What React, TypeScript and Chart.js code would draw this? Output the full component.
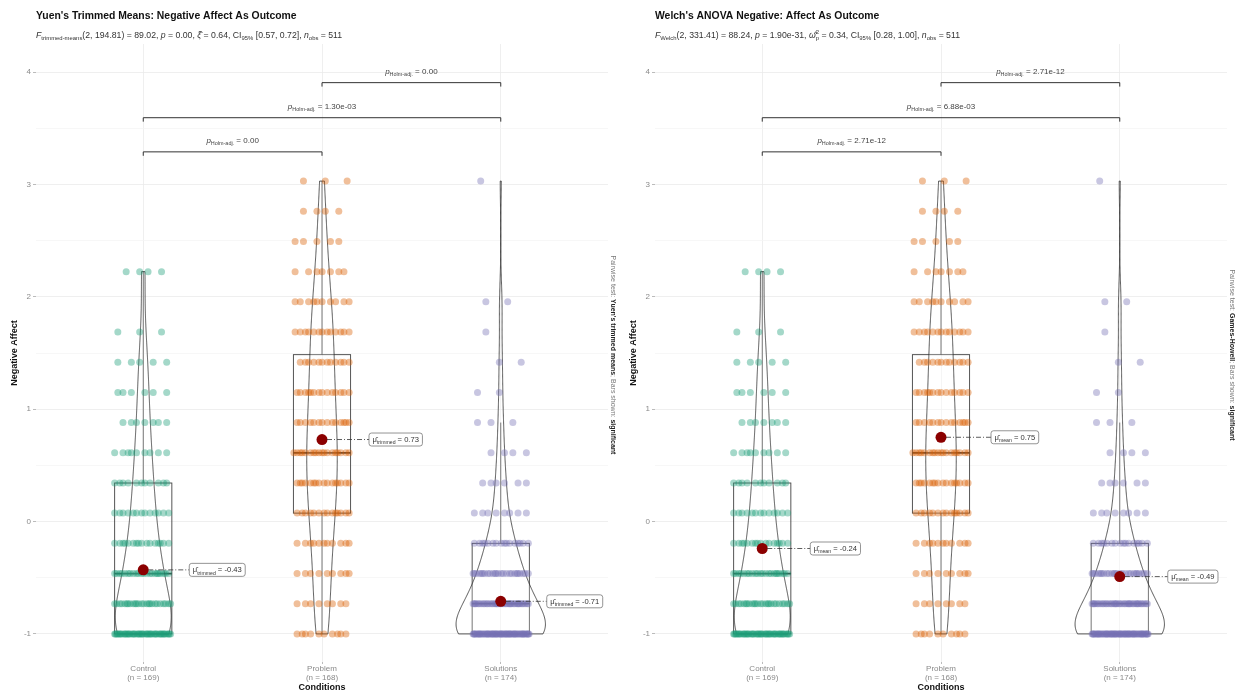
import { useEffect, useRef } from "react";
import { Chart, registerables } from "chart.js";

Chart.register(...registerables);

const FONT = '"Liberation Sans", Arial, Helvetica, sans-serif';

// Groups and their sample sizes
const conditions = ["Control", "Problem", "Solutions"];
const groupSizes = [169, 168, 174];

// Standardised negative-affect score levels and the number of participants at each level
const scoreLevels = [-1.0, -0.731, -0.463, -0.194, 0.075, 0.343, 0.612, 0.881, 1.149, 1.418, 1.687, 1.955, 2.224, 2.493, 2.761, 3.03];
const controlCounts = [48, 25, 22, 16, 13, 11, 9, 7, 6, 5, 3, 0, 4, 0, 0, 0];
const problemCounts = [10, 8, 9, 11, 14, 16, 18, 14, 14, 12, 13, 10, 7, 5, 4, 3];
const solutionsCounts = [66, 38, 25, 16, 8, 6, 4, 3, 2, 2, 1, 2, 0, 0, 0, 1];

// Centre estimates reported on each panel
const trimmedMeans = [-0.43, 0.73, -0.71];
const arithmeticMeans = [-0.24, 0.75, -0.49];

// Pairwise comparisons (1-based group positions) and their adjusted p-values
const comparisonPairs = [[1, 2], [1, 3], [2, 3]];
const yuenPairP = ["0.00", "1.30e-03", "0.00"];
const gamesHowellPairP = ["2.71e-12", "6.88e-03", "2.71e-12"];

// Axis ticks
const yTickValues = [-1, 0, 1, 2, 3, 4];
const yMinorValues = [-0.5, 0.5, 1.5, 2.5, 3.5];

const groupColours = ["#1B9E77", "#D95F02", "#7570B3"];

// ---- layout constants ----
const Y_MIN = -1.25;
const Y_MAX = 4.25;
const X_MIN = 0.4;
const X_MAX = 3.6;
const BRACKET_LEVELS = [3.29, 3.594, 3.906];
const BRACKET_TIP = 0.035;
const VIOLIN_WIDTH = 0.5;
const BOX_WIDTH = 0.32;
const JITTER = 0.16;
const LINE = "rgba(45,45,45,0.9)";
const MAJOR_GRID = "#EBEBEB";
const MINOR_GRID = "#F5F5F5";
const TICK_TEXT = "#8a8a8a";

// ---- summary statistics ----
const groupCounts = [controlCounts, problemCounts, solutionsCounts];

function expandScores(counts: number[]): number[] {
  const out: number[] = [];
  counts.forEach((c, k) => {
    for (let i = 0; i < c; i++) out.push(scoreLevels[k]);
  });
  return out;
}

function quantile(sorted: number[], p: number): number {
  const h = (sorted.length - 1) * p;
  const lo = Math.floor(h);
  const hi = Math.min(lo + 1, sorted.length - 1);
  return sorted[lo] + (h - lo) * (sorted[hi] - sorted[lo]);
}

// Silverman's rule of thumb (R's bw.nrd0)
function bandwidth(sorted: number[]): number {
  const n = sorted.length;
  const mean = sorted.reduce((a, b) => a + b, 0) / n;
  const sd = Math.sqrt(sorted.reduce((a, b) => a + (b - mean) ** 2, 0) / (n - 1));
  const iqr = quantile(sorted, 0.75) - quantile(sorted, 0.25);
  const lo = Math.min(sd, iqr / 1.34) || sd || 1;
  return 0.9 * lo * Math.pow(n, -0.2);
}

function kernelDensity(sorted: number[], bw: number, at: number): number {
  let s = 0;
  for (const v of sorted) {
    const u = (at - v) / bw;
    s += Math.exp(-0.5 * u * u);
  }
  return s / (sorted.length * bw * Math.sqrt(2 * Math.PI));
}

const summaries = groupCounts.map((counts) => {
  const scores = expandScores(counts);
  const q1 = quantile(scores, 0.25);
  const med = quantile(scores, 0.5);
  const q3 = quantile(scores, 0.75);
  const iqr = q3 - q1;
  const lowW = Math.min(...scores.filter((v) => v >= q1 - 1.5 * iqr));
  const highW = Math.max(...scores.filter((v) => v <= q3 + 1.5 * iqr));
  const bw = bandwidth(scores);
  const lo = scores[0];
  const hi = scores[scores.length - 1];
  const curve: [number, number][] = [];
  for (let j = 0; j < 512; j++) {
    const v = lo + ((hi - lo) * j) / 511;
    curve.push([v, kernelDensity(scores, bw, v)]);
  }
  return { scores, counts, q1, med, q3, lowW, highW, curve };
});

// violins share one area scale
const maxDensity = Math.max(...summaries.flatMap((s) => s.curve.map((c) => c[1])));

// jittered raw observations for one group
function groupPoints(g: number) {
  const pts: { x: number; y: number }[] = [];
  groupCounts[g].forEach((c, k) => {
    for (let i = 0; i < c; i++) {
      const frac = (i * 0.61803398875 + k * 0.3819660113 + g * 0.21) % 1;
      pts.push({ x: g + 1 + (frac - 0.5) * 2 * JITTER, y: scoreLevels[k] });
    }
  });
  return pts;
}

// ---- rich text ----
type Seg = { t: string; s?: "i" | "b"; p?: "sub" | "sup"; c?: string; hold?: boolean };

function segFont(seg: Seg, size: number) {
  const sz = seg.p ? size * 0.68 : size;
  return `${seg.s === "i" ? "italic " : ""}${seg.s === "b" ? "bold " : ""}${sz}px ${FONT}`;
}

function measureRich(ctx: CanvasRenderingContext2D, segs: Seg[], size: number) {
  let w = 0;
  let held = 0;
  for (const seg of segs) {
    ctx.font = segFont(seg, size);
    const sw = ctx.measureText(seg.t).width;
    if (seg.hold) {
      held = sw;
      continue;
    }
    w += Math.max(sw, held);
    held = 0;
  }
  return w;
}

function drawRich(
  ctx: CanvasRenderingContext2D,
  segs: Seg[],
  x: number,
  baseline: number,
  size: number,
  color: string,
  align: "left" | "center" = "left"
) {
  const total = measureRich(ctx, segs, size);
  let cx = align === "center" ? x - total / 2 : x;
  ctx.textAlign = "left";
  ctx.textBaseline = "alphabetic";
  let held = 0;
  for (const seg of segs) {
    ctx.font = segFont(seg, size);
    ctx.fillStyle = seg.c || color;
    const dy = seg.p === "sub" ? size * 0.3 : seg.p === "sup" ? -size * 0.42 : 0;
    ctx.fillText(seg.t, cx, baseline + dy);
    const sw = ctx.measureText(seg.t).width;
    if (seg.hold) {
      held = sw;
      continue;
    }
    cx += Math.max(sw, held);
    held = 0;
  }
}

// ---- panel definitions ----
type PanelSpec = {
  title: string;
  subtitle: Seg[];
  caption: Seg[];
  centres: number[];
  centreLabel: string;
  pairP: string[];
  labelGap: number[];
};

const CAPTION_GREY = "#777";

const panels: PanelSpec[] = [
  {
    title: "Yuen's Trimmed Means: Negative Affect As Outcome",
    subtitle: [
      { t: "F", s: "i" },
      { t: "trimmed-means", p: "sub" },
      { t: "(2, 194.81) = 89.02, " },
      { t: "p", s: "i" },
      { t: " = 0.00, " },
      { t: "\u03BE\u0302", s: "i" },
      { t: " = 0.64, CI" },
      { t: "95%", p: "sub" },
      { t: " [0.57, 0.72], " },
      { t: "n", s: "i" },
      { t: "obs", p: "sub" },
      { t: " = 511" },
    ],
    caption: [
      { t: "Pairwise test: ", c: CAPTION_GREY },
      { t: "Yuen's trimmed means", s: "b" },
      { t: "; Bars shown: ", c: CAPTION_GREY },
      { t: "significant", s: "b" },
    ],
    centres: trimmedMeans,
    centreLabel: "trimmed",
    pairP: yuenPairP,
    labelGap: [46, 47, 46],
  },
  {
    title: "Welch's ANOVA Negative: Affect As Outcome",
    subtitle: [
      { t: "F", s: "i" },
      { t: "Welch", p: "sub" },
      { t: "(2, 331.41) = 88.24, " },
      { t: "p", s: "i" },
      { t: " = 1.90e-31, " },
      { t: "\u03C9\u0302", s: "i" },
      { t: "2", p: "sup", hold: true },
      { t: "p", p: "sub" },
      { t: " = 0.34, CI" },
      { t: "95%", p: "sub" },
      { t: " [0.28, 1.00], " },
      { t: "n", s: "i" },
      { t: "obs", p: "sub" },
      { t: " = 511" },
    ],
    caption: [
      { t: "Pairwise test: ", c: CAPTION_GREY },
      { t: "Games-Howell", s: "b" },
      { t: "; Bars shown: ", c: CAPTION_GREY },
      { t: "significant", s: "b" },
    ],
    centres: arithmeticMeans,
    centreLabel: "mean",
    pairP: gamesHowellPairP,
    labelGap: [48, 50, 48],
  },
];

// ---- drawing plugin: violins, boxes, labels, brackets and panel text ----
const decorPlugin = {
  id: "decor",
  beforeDatasetsDraw(chart: any) {
    const { ctx } = chart;
    const x = chart.scales.x;
    const y = chart.scales.y;
    ctx.save();
    summaries.forEach((g, i) => {
      const cx = i + 1;
      const px = x.getPixelForValue(cx);
      const half = (BOX_WIDTH / 2) * (x.getPixelForValue(2) - x.getPixelForValue(1));
      // box and whiskers
      ctx.strokeStyle = LINE;
      ctx.lineWidth = 0.9;
      ctx.beginPath();
      ctx.moveTo(px, y.getPixelForValue(g.q3));
      ctx.lineTo(px, y.getPixelForValue(g.highW));
      ctx.moveTo(px, y.getPixelForValue(g.q1));
      ctx.lineTo(px, y.getPixelForValue(g.lowW));
      ctx.stroke();
      const top = y.getPixelForValue(g.q3);
      const bot = y.getPixelForValue(g.q1);
      ctx.fillStyle = "rgba(255,255,255,0.2)";
      ctx.fillRect(px - half, top, half * 2, bot - top);
      ctx.strokeRect(px - half, top, half * 2, bot - top);
      ctx.lineWidth = 1.7;
      ctx.beginPath();
      ctx.moveTo(px - half, y.getPixelForValue(g.med));
      ctx.lineTo(px + half, y.getPixelForValue(g.med));
      ctx.stroke();
      // violin outline
      ctx.lineWidth = 0.9;
      ctx.beginPath();
      g.curve.forEach(([v, d], j) => {
        const xx = x.getPixelForValue(cx + (d / maxDensity) * (VIOLIN_WIDTH / 2));
        const yy = y.getPixelForValue(v);
        if (j === 0) ctx.moveTo(xx, yy);
        else ctx.lineTo(xx, yy);
      });
      for (let j = g.curve.length - 1; j >= 0; j--) {
        const [v, d] = g.curve[j];
        ctx.lineTo(x.getPixelForValue(cx - (d / maxDensity) * (VIOLIN_WIDTH / 2)), y.getPixelForValue(v));
      }
      ctx.closePath();
      ctx.fillStyle = "rgba(255,255,255,0.2)";
      ctx.fill();
      ctx.stroke();
    });
    ctx.restore();
  },
  afterDatasetsDraw(chart: any, _args: any, opts: PanelSpec) {
    const { ctx } = chart;
    const x = chart.scales.x;
    const y = chart.scales.y;
    ctx.save();
    // centre labels
    opts.centres.forEach((m, i) => {
      const px = x.getPixelForValue(i + 1);
      const py = y.getPixelForValue(m);
      const segs: Seg[] = [{ t: "\u03BC\u0302" }, { t: opts.centreLabel, p: "sub" }, { t: " = " + m.toFixed(2) }];
      const w = measureRich(ctx, segs, 7.6);
      const bx = px + opts.labelGap[i];
      const bw = w + 7;
      const bh = 13;
      ctx.strokeStyle = "#333";
      ctx.lineWidth = 0.8;
      ctx.setLineDash([5, 2, 1, 2]);
      ctx.beginPath();
      ctx.moveTo(px + 5, py);
      ctx.lineTo(bx, py);
      ctx.stroke();
      ctx.setLineDash([]);
      ctx.beginPath();
      ctx.roundRect(bx, py - bh / 2, bw, bh, 2.5);
      ctx.fillStyle = "#fff";
      ctx.fill();
      ctx.strokeStyle = "#666";
      ctx.lineWidth = 0.7;
      ctx.stroke();
      drawRich(ctx, segs, bx + 3.5, py + 2.5, 7.6, "#333");
    });
    // significance brackets
    comparisonPairs.forEach(([a, b], j) => {
      const lv = BRACKET_LEVELS[j];
      const yp = y.getPixelForValue(lv);
      const tp = y.getPixelForValue(lv - BRACKET_TIP);
      const xa = x.getPixelForValue(a);
      const xb = x.getPixelForValue(b);
      ctx.strokeStyle = "#333";
      ctx.lineWidth = 1;
      ctx.beginPath();
      ctx.moveTo(xa, tp);
      ctx.lineTo(xa, yp);
      ctx.lineTo(xb, yp);
      ctx.lineTo(xb, tp);
      ctx.stroke();
      const segs: Seg[] = [{ t: "p", s: "i" }, { t: "Holm-adj.", p: "sub" }, { t: " = " + opts.pairP[j] }];
      drawRich(ctx, segs, (xa + xb) / 2, yp - 9, 8, "#444", "center");
    });
    ctx.restore();
  },
  afterDraw(chart: any, _args: any, opts: PanelSpec) {
    const { ctx, chartArea } = chart;
    ctx.save();
    // title and subtitle
    ctx.fillStyle = "#111";
    ctx.font = `bold 10.4px ${FONT}`;
    ctx.textAlign = "left";
    ctx.textBaseline = "alphabetic";
    ctx.fillText(opts.title, chartArea.left, 18.5);
    drawRich(ctx, opts.subtitle, chartArea.left, 37.5, 8.7, "#333");
    // axis titles
    ctx.fillStyle = "#111";
    ctx.font = `bold 9px ${FONT}`;
    ctx.textAlign = "center";
    ctx.textBaseline = "middle";
    ctx.fillText("Conditions", (chartArea.left + chartArea.right) / 2, 688);
    ctx.save();
    ctx.translate(15, (chartArea.top + chartArea.bottom) / 2);
    ctx.rotate(-Math.PI / 2);
    ctx.fillText("Negative Affect", 0, 0);
    ctx.restore();
    // right-hand caption
    ctx.save();
    ctx.translate(chartArea.right + 3, 355);
    ctx.rotate(Math.PI / 2);
    drawRich(ctx, opts.caption, 0, 0, 7, "#222", "center");
    ctx.restore();
    ctx.restore();
  },
};

function buildConfig(spec: PanelSpec): any {
  return {
    type: "scatter",
    data: {
      datasets: [
        {
          label: "centre",
          data: spec.centres.map((m, i) => ({ x: i + 1, y: m })),
          pointRadius: 5.5,
          backgroundColor: "#8B0000",
          borderWidth: 0,
          order: 0,
        },
        ...conditions.map((name, g) => ({
          label: name,
          data: groupPoints(g),
          pointRadius: 3.5,
          backgroundColor: groupColours[g] + "66",
          borderWidth: 0,
          order: 1,
        })),
      ],
    },
    options: {
      responsive: false,
      animation: false,
      events: [],
      layout: { padding: { top: 44, right: 12, left: 0, bottom: 0 } },
      plugins: {
        legend: { display: false },
        tooltip: { enabled: false },
        decor: spec,
      },
      scales: {
        x: {
          type: "linear",
          min: X_MIN,
          max: X_MAX,
          afterBuildTicks: (s: any) => {
            s.ticks = conditions.map((_, i) => ({ value: i + 1 }));
          },
          afterFit: (s: any) => {
            s.height = 32;
          },
          border: { display: false },
          grid: { color: MAJOR_GRID, lineWidth: 0.8, tickLength: 2, tickColor: "#aaa" },
          ticks: {
            autoSkip: false,
            maxRotation: 0,
            padding: 0,
            color: TICK_TEXT,
            font: { family: FONT, size: 8, lineHeight: 1.15 },
            callback: (v: number) => [conditions[v - 1], `(n = ${groupSizes[v - 1]})`],
          },
        },
        y: {
          type: "linear",
          min: Y_MIN,
          max: Y_MAX,
          afterBuildTicks: (s: any) => {
            s.ticks = [...yTickValues, ...yMinorValues].sort((a, b) => a - b).map((v) => ({ value: v }));
          },
          afterFit: (s: any) => {
            s.width = 36;
          },
          border: { display: false },
          grid: {
            color: (c: any) => (Number.isInteger(c.tick.value) ? MAJOR_GRID : MINOR_GRID),
            lineWidth: 0.8,
            tickLength: 3,
            tickColor: (c: any) => (Number.isInteger(c.tick.value) ? "#aaa" : "rgba(0,0,0,0)"),
          },
          ticks: {
            autoSkip: false,
            padding: 2,
            color: TICK_TEXT,
            font: { family: FONT, size: 8 },
            callback: (v: number) => (yTickValues.includes(v) ? String(v) : ""),
          },
        },
      },
    },
    plugins: [decorPlugin],
  };
}

function Panel({ spec, left }: { spec: PanelSpec; left: number }) {
  const ref = useRef<HTMLCanvasElement>(null);
  useEffect(() => {
    const chart = new Chart(ref.current as HTMLCanvasElement, buildConfig(spec));
    return () => chart.destroy();
  }, [spec]);
  return (
    <canvas
      ref={ref}
      width={620}
      height={694}
      style={{ position: "absolute", left, top: 0, width: 620, height: 694, display: "block" }}
    />
  );
}

export default function App() {
  return (
    <div
      style={{
        position: "fixed",
        left: 0,
        top: 0,
        width: 1239,
        height: 694,
        background: "#fff",
        overflow: "hidden",
      }}
    >
      <Panel spec={panels[0]} left={0} />
      <Panel spec={panels[1]} left={619} />
    </div>
  );
}
